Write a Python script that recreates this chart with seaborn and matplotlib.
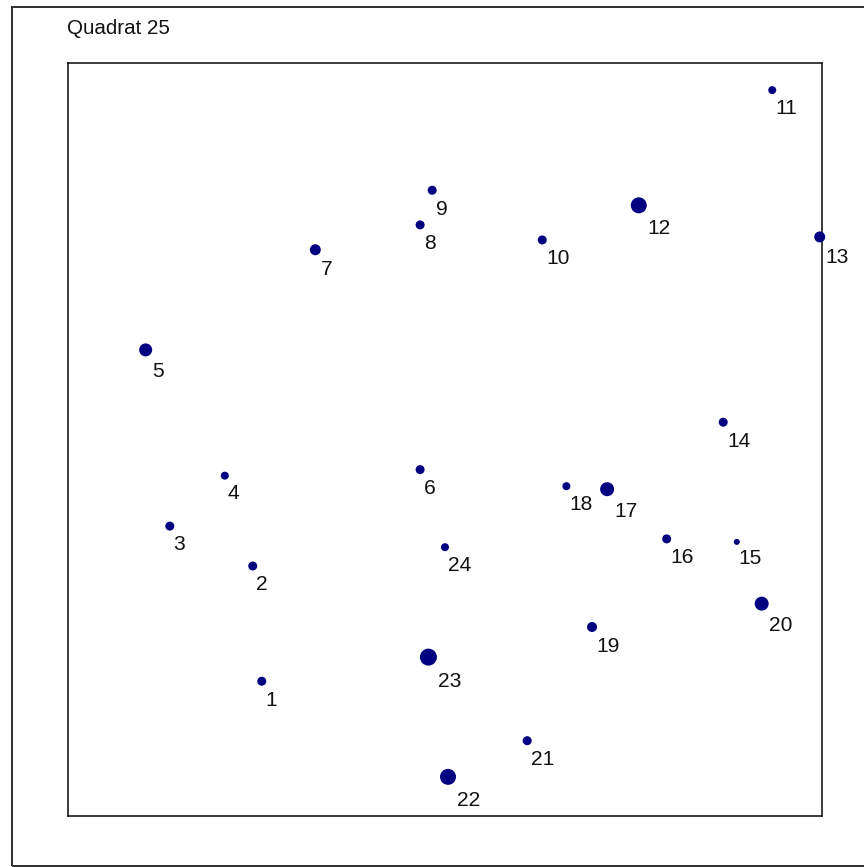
import pandas as pd
import matplotlib.pyplot as plt
from matplotlib.patches import Rectangle
import seaborn as sns

# Datos: posiciones de los individuos en el cuadrante (m) y diametro del simbolo
ids = list(range(1, 25))
x = [2.57, 2.45, 1.35, 2.08, 1.03, 4.67, 3.28, 4.67, 4.83, 6.29, 9.34, 7.57,
     9.97, 8.69, 8.87, 7.94, 7.15, 6.61, 6.95, 9.20, 6.09, 5.04, 4.78, 5.00]
y = [1.79, 3.32, 3.85, 4.52, 6.19, 4.60, 7.52, 7.85, 8.31, 7.65, 9.64, 8.11,
     7.69, 5.23, 3.64, 3.68, 4.34, 4.38, 2.51, 2.82, 1.00, 0.52, 2.11, 3.57]
diam = [9, 9, 9, 8, 13, 9, 11, 9, 9, 9, 8, 16,
        11, 9, 6, 9, 14, 8, 10, 14, 9, 16, 17, 8]
titulo = "Quadrat 25"

df = pd.DataFrame({"id": ids, "x": x, "y": y, "d": diam})

sns.set_style("white")
plt.rcParams["font.family"] = ["Liberation Sans", "DejaVu Sans"]

W, H = 864, 867
fig = plt.figure(figsize=(W / 72, H / 72), dpi=72)
ax = fig.add_axes([68 / W, (H - 816) / H, 754 / W, 753 / H])

sizes = {d: d ** 2 for d in set(diam)}
sns.scatterplot(data=df, x="x", y="y", size="d", sizes=sizes, color="#000080",
                linewidth=0, legend=False, ax=ax, clip_on=False, zorder=3)

for _, r in df.iterrows():
    rad = r["d"] / 2
    ax.annotate(str(int(r["id"])), (r["x"], r["y"]),
                xytext=(1.5 * rad - 3, -(1.3 * rad + 3.5)),
                textcoords="offset points", ha="left", va="top",
                fontsize=21, color="#111111", annotation_clip=False)

ax.set_xlim(0, 10)
ax.set_ylim(0, 10)
ax.set_xticks([])
ax.set_yticks([])
ax.set_xlabel("")
ax.set_ylabel("")
for sp in ax.spines.values():
    sp.set_color("#111111")
    sp.set_linewidth(1.6)

# titulo y marco exterior
fig.text(67 / W, 1 - 19 / H, titulo, ha="left", va="top", fontsize=20.5,
         color="#111111")
fig.add_artist(Rectangle((11.5 / W, (H - 865.5) / H), 2.0, (858.5) / H,
                         transform=fig.transFigure, fill=False,
                         edgecolor="#333333", linewidth=2))

fig.savefig("out.png", dpi=72)
